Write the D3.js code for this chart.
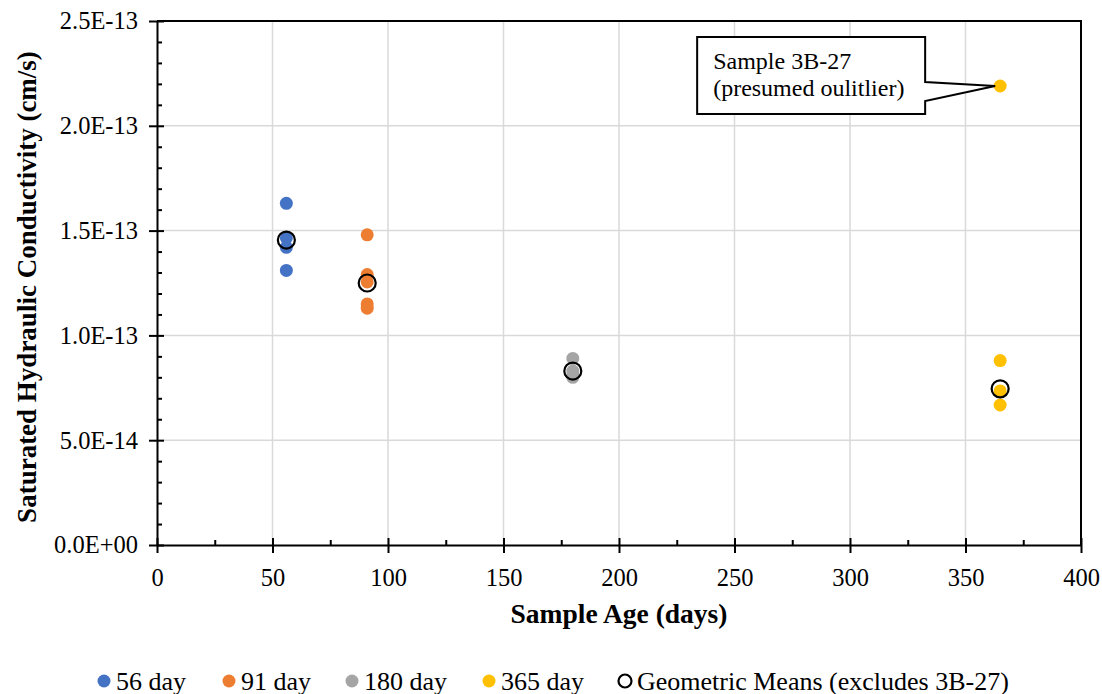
<!DOCTYPE html>
<html>
<head>
<meta charset="utf-8">
<script src="https://cdn.jsdelivr.net/npm/d3@7"></script>
<style>
    body { margin: 0; background: #fff; }
    svg { font-family: "Liberation Serif", "Times New Roman", serif; }
</style>
</head>
<body>
<svg id="chart"></svg>
<script>
// sample ages (days) and hydraulic conductivity readings (cm/s)
const ageDays = [56, 91, 180, 365];
const seriesNames = ['56 day', '91 day', '180 day', '365 day'];
const k56 = [1.63e-13, 1.465e-13, 1.42e-13, 1.31e-13];
const k91 = [1.48e-13, 1.29e-13, 1.255e-13, 1.15e-13, 1.13e-13];
const k180 = [0.89e-13, 0.83e-13, 0.81e-13, 0.80e-13];
const k365 = [0.88e-13, 0.735e-13, 0.668e-13, 2.19e-13];
const geoMeans = [1.455e-13, 1.25e-13, 0.83e-13, 0.745e-13];
const xTicks = [0, 50, 100, 150, 200, 250, 300, 350, 400];
const yTicks = [0, 0.5e-13, 1.0e-13, 1.5e-13, 2.0e-13, 2.5e-13];
const outlier = { age: 365, k: 2.19e-13, label: ['Sample 3B-27', '(presumed oulitlier)'] };
const meansLabel = 'Geometric Means (excludes 3B-27)';

const colors = ['#4472C4', '#ED7D31', '#A5A5A5', '#FFC000'];

class conductivityChart {
    constructor(_config) {
        this.config = {
            parentElement: _config.parentElement,
            containerWidth: _config.containerWidth || 1102,
            containerHeight: _config.containerHeight || 694,
            margin: { top: 21, right: 21, bottom: 149, left: 157 }
        }
        this.initVis();
    }

    initVis() {
        let vis = this;

        vis.width = vis.config.containerWidth - vis.config.margin.left - vis.config.margin.right;
        vis.height = vis.config.containerHeight - vis.config.margin.top - vis.config.margin.bottom;

        vis.xScale = d3.scaleLinear().domain([0, 400]).range([0, vis.width]);
        vis.yScale = d3.scaleLinear().domain([0, 2.5e-13]).range([vis.height, 0]);

        vis.svg = d3.select(vis.config.parentElement)
            .attr('width', vis.config.containerWidth)
            .attr('height', vis.config.containerHeight);

        vis.chart = vis.svg.append('g')
            .attr('transform', `translate(${vis.config.margin.left},${vis.config.margin.top})`);

        vis.renderVis();
    }

    renderVis() {
        let vis = this;
        const fmtY = d => {
            if (d === 0) return '0.0E+00';
            const [m, e] = d.toExponential(1).split('e');
            return `${m}E-${String(Math.abs(+e)).padStart(2, '0')}`;
        };

        // gridlines
        vis.chart.append('g')
            .selectAll('line.gx')
            .data(xTicks.slice(1, -1))
            .join('line')
            .attr('x1', d => vis.xScale(d)).attr('x2', d => vis.xScale(d))
            .attr('y1', 0).attr('y2', vis.height)
            .attr('stroke', '#d9d9d9').attr('stroke-width', 1.5);
        vis.chart.append('g')
            .selectAll('line.gy')
            .data(yTicks.slice(1, -1))
            .join('line')
            .attr('x1', 0).attr('x2', vis.width)
            .attr('y1', d => vis.yScale(d)).attr('y2', d => vis.yScale(d))
            .attr('stroke', '#d9d9d9').attr('stroke-width', 1.5);

        // frame (top + right)
        vis.chart.append('path')
            .attr('d', `M0,0H${vis.width}V${vis.height}`)
            .attr('fill', 'none').attr('stroke', '#000').attr('stroke-width', 2);

        // minor ticks, inside
        const xMinor = d3.range(25, 400, 50);
        const yMinor = d3.range(1, 25).filter(i => i % 5 !== 0).map(i => i * 1e-14);
        vis.chart.append('g').attr('transform', `translate(0,${vis.height})`)
            .call(d3.axisBottom(vis.xScale).tickValues(xMinor).tickSizeInner(-5).tickSizeOuter(0).tickFormat(''))
            .call(g => g.select('.domain').remove())
            .selectAll('line').attr('stroke-width', 2);
        vis.chart.append('g')
            .call(d3.axisLeft(vis.yScale).tickValues(yMinor).tickSizeInner(-5).tickSizeOuter(0).tickFormat(''))
            .call(g => g.select('.domain').remove())
            .selectAll('line').attr('stroke-width', 2);

        // major axes
        vis.xAxisG = vis.chart.append('g')
            .attr('transform', `translate(0,${vis.height})`)
            .call(d3.axisBottom(vis.xScale).tickValues(xTicks).tickSizeInner(8).tickSizeOuter(0).tickPadding(16));
        vis.xAxisG.selectAll('line').attr('y1', -7);
        vis.yAxisG = vis.chart.append('g')
            .call(d3.axisLeft(vis.yScale).tickValues(yTicks).tickFormat(fmtY).tickSizeInner(8).tickSizeOuter(0).tickPadding(11));
        vis.yAxisG.selectAll('line').attr('x1', 7);
        [vis.xAxisG, vis.yAxisG].forEach(g => {
            g.select('.domain').attr('stroke-width', 2);
            g.selectAll('line').attr('stroke-width', 2);
            g.selectAll('text')
                .attr('font-family', '"Liberation Serif", serif')
                .attr('font-size', 24.5).attr('fill', '#000');
        });

        // axis titles
        vis.svg.append('text')
            .attr('x', vis.config.margin.left + vis.width / 2)
            .attr('y', 623)
            .attr('text-anchor', 'middle')
            .attr('font-weight', 'bold').attr('font-size', 27.5)
            .text('Sample Age (days)');
        vis.svg.append('text')
            .attr('transform', `translate(36,${vis.config.margin.top + vis.height / 2 + 4}) rotate(-90)`)
            .attr('text-anchor', 'middle')
            .attr('font-weight', 'bold').attr('font-size', 27)
            .text('Saturated Hydraulic Conductivity (cm/s)');

        // points per series
        const groups = [k56, k91, k180, k365];
        groups.forEach((vals, i) => {
            vis.chart.append('g')
                .selectAll('circle')
                .data(vals)
                .join('circle')
                .attr('cx', vis.xScale(ageDays[i]))
                .attr('cy', d => vis.yScale(d))
                .attr('r', 6.5)
                .attr('fill', colors[i]);
        });

        // geometric means
        vis.chart.append('g')
            .selectAll('circle')
            .data(geoMeans)
            .join('circle')
            .attr('cx', (d, i) => vis.xScale(ageDays[i]))
            .attr('cy', d => vis.yScale(d))
            .attr('r', 8.5)
            .attr('fill', 'none')
            .attr('stroke', '#000')
            .attr('stroke-width', 2.2);

        // callout for the outlier
        const px = vis.xScale(outlier.age), py = vis.yScale(outlier.k);
        const bx0 = px - 303, bx1 = px - 75, by0 = py - 49, by1 = py + 28;
        vis.chart.append('path')
            .attr('d', `M${bx0},${by0}H${bx1}V${py - 4}L${px - 5},${py}L${bx1},${py + 15}V${by1}H${bx0}Z`)
            .attr('fill', '#fff').attr('stroke', '#000').attr('stroke-width', 2);
        vis.chart.append('g')
            .selectAll('text')
            .data(outlier.label)
            .join('text')
            .attr('x', bx0 + 16)
            .attr('y', (d, i) => py - 17 + i * 27)
            .attr('font-size', 24)
            .text(d => d);

        // legend
        const legendX = [104, 229, 352, 489, 625];
        const legend = vis.svg.append('g').attr('transform', 'translate(0,681)');
        seriesNames.concat([meansLabel]).forEach((name, i) => {
            const item = legend.append('g').attr('transform', `translate(${legendX[i]},0)`);
            if (i < 4) {
                item.append('circle').attr('r', 6.5).attr('fill', colors[i]);
            } else {
                item.append('circle').attr('r', 6.5).attr('fill', 'none')
                    .attr('stroke', '#000').attr('stroke-width', 2.2);
            }
            item.append('text')
                .attr('x', 12).attr('y', 8.5)
                .attr('font-size', 26)
                .text(name);
        });
    }
}

new conductivityChart({ parentElement: '#chart' });
</script>
</body>
</html>
